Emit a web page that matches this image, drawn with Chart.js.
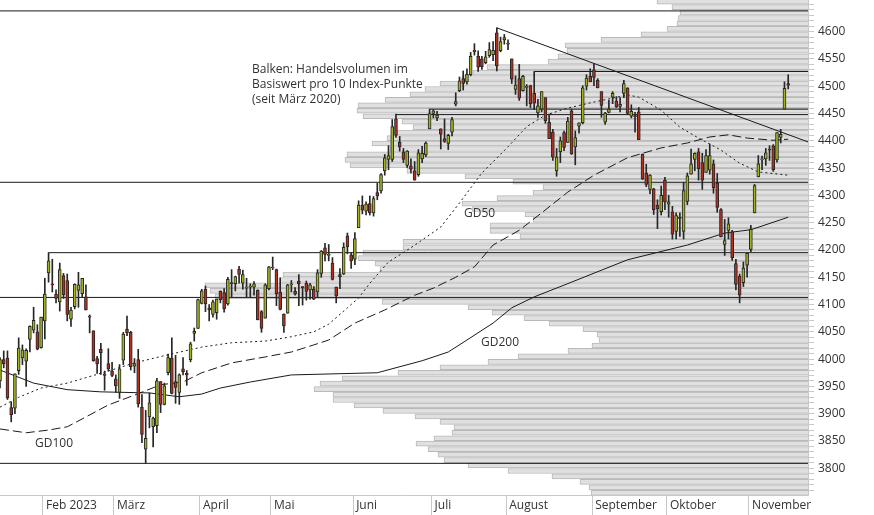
<!DOCTYPE html>
<html lang="de">
<head>
<meta charset="UTF-8">
<title>Index mit Volumenprofil</title>
<script src="https://cdn.jsdelivr.net/npm/chart.js@4.4.0/dist/chart.umd.min.js"></script>
<style>
  html, body { margin: 0; padding: 0; background: #fff; }
  #wrap { width: 874px; height: 515px; }
</style>
</head>
<body>
<div id="wrap"><canvas id="chart"></canvas></div>
<script>
// daily candles, 13.01.2023 - 15.11.2023 (index = trading day)
const opens = [
  3960,3999,4002,3911,3910,3979,4002,3996,4036,4053,4050,4021,
  4070,4158,4137,4119,4105,4153,4144,4073,4096,4126,4120,4114,4077,4052,4001,4018,3973,3992,3978,
  3964,3939,3998,4055,4049,3987,3999,3912,3835,3894,3876,3878,3959,3917,3975,4002,3959,3939,3982,3974,3999,4047,4056,
  4102,4128,4094,4082,4085,4124,4122,4101,4140,4138,4165,4139,4130,4132,4132,4126,4087,4075,4129,
  4167,4164,4123,4082,4084,4136,4124,4143,4132,4139,4127,4128,4123,4157,4204,4190,4176,4132,4155,4156,4226,4191,
  4183,4241,4282,4271,4285,4268,4305,4308,4345,4366,4366,4440,4397,4380,4355,4354,4345,4338,4367,4374,4422,
  4450,4442,4422,4404,4395,4416,4467,4492,4514,4508,4521,4563,4555,4550,4543,4556,4558,4598,4565,4585,
  4579,4550,4494,4514,4492,4498,4501,4487,4451,4458,4479,4434,4416,4345,4380,4415,4397,4455,4389,4427,4433,4500,4518,
  4530,4511,4490,4434,4452,4480,4473,4463,4487,4497,4445,4446,4453,4375,4341,4311,4312,4282,4270,4328,
  4284,4270,4234,4260,4234,4289,4339,4366,4380,4360,4342,4346,4358,4322,4274,4210,4236,4233,4175,4152,4140,4172,
  4201,4268,4334,4365,4367,4384,4391,4365,4406,4458,4505
];
const highs = [
  4003,4015,4015,3922,3973,4039,4026,4019,4061,4095,4063,4077,
  4148,4195,4183,4127,4176,4157,4156,4095,4138,4159,4148,4136,4081,4052,4005,4029,3978,4019,3994,
  3971,3990,4049,4079,4051,4001,4018,3935,3906,3938,3894,3965,3959,3956,4009,4039,4007,3973,4003,3979,4031,4057,4110,
  4128,4134,4100,4108,4110,4125,4129,4150,4164,4152,4170,4163,4148,4138,4142,4127,4089,4138,4170,
  4187,4165,4149,4083,4137,4144,4131,4155,4133,4143,4139,4133,4164,4199,4212,4210,4186,4132,4166,4213,4231,4195,
  4232,4290,4299,4288,4299,4298,4322,4340,4375,4391,4439,4449,4408,4386,4382,4367,4362,4384,4390,4398,4458,
  4457,4454,4422,4440,4412,4443,4488,4517,4528,4532,4562,4578,4565,4555,4564,4580,4582,4607,4590,4595,
  4585,4550,4519,4540,4520,4503,4502,4527,4476,4490,4479,4449,4421,4386,4407,4418,4443,4458,4418,4433,4501,4521,4532,
  4541,4514,4490,4452,4474,4490,4481,4479,4511,4497,4466,4452,4461,4376,4357,4338,4313,4292,4317,4333,
  4300,4280,4268,4268,4324,4341,4385,4378,4386,4377,4384,4394,4365,4340,4276,4256,4259,4236,4183,4156,4178,4194,
  4245,4320,4373,4372,4386,4391,4393,4415,4421,4508,4521
];
const lows = [
  3947,3984,3926,3885,3900,3972,3990,3950,4013,4048,4017,4020,
  4037,4141,4123,4103,4088,4111,4070,4060,4092,4095,4113,4090,4048,3996,3974,3972,3943,3978,3968,
  3939,3928,3990,4043,3980,3975,3912,3847,3809,3874,3839,3865,3902,3916,3971,3936,3919,3917,3971,3952,3995,4033,4056,
  4101,4087,4070,4077,4073,4103,4086,4099,4114,4125,4139,4128,4114,4113,4117,4072,4049,4075,4127,
  4164,4098,4090,4049,4084,4123,4117,4098,4099,4108,4110,4109,4114,4150,4180,4180,4145,4103,4129,4155,4193,4166,
  4173,4241,4266,4264,4264,4262,4292,4304,4337,4347,4362,4406,4381,4360,4351,4341,4328,4335,4360,4371,4422,
  4442,4437,4385,4397,4384,4409,4464,4490,4493,4504,4519,4557,4527,4531,4541,4553,4547,4528,4563,4577,
  4567,4505,4485,4474,4491,4464,4461,4457,4443,4453,4432,4404,4364,4335,4360,4382,4397,4375,4356,4414,4431,4493,4508,
  4501,4497,4443,4430,4451,4468,4461,4453,4479,4448,4442,4416,4402,4329,4316,4303,4265,4239,4264,4274,
  4260,4220,4220,4225,4220,4283,4339,4345,4328,4311,4342,4339,4304,4269,4224,4190,4220,4181,4127,4103,4133,4150,
  4197,4268,4334,4347,4355,4364,4344,4361,4396,4458,4495
];
const closes = [
  3999,3991,3929,3898,3973,4020,4017,4016,4060,4071,4018,4077,
  4119,4180,4136,4111,4164,4118,4082,4090,4137,4136,4148,4090,4079,3997,3991,4012,3970,3982,3970,
  3951,3982,4046,4048,3986,3992,3918,3862,3855,3920,3892,3960,3917,3951,4003,3937,3948,3971,3977,3971,4028,4051,4109,
  4125,4101,4090,4105,4110,4109,4092,4146,4138,4151,4155,4155,4130,4133,4138,4072,4056,4136,4169,
  4168,4120,4091,4061,4136,4138,4119,4138,4131,4124,4136,4110,4158,4198,4192,4192,4146,4116,4151,4205,4206,4180,
  4221,4282,4273,4284,4268,4294,4299,4338,4369,4373,4426,4410,4389,4366,4381,4348,4328,4378,4377,4396,4450,
  4455,4447,4412,4399,4410,4439,4472,4510,4505,4522,4555,4566,4535,4536,4554,4567,4566,4537,4582,4589,
  4577,4513,4502,4478,4518,4499,4468,4469,4464,4490,4437,4404,4370,4370,4400,4388,4436,4376,4406,4433,4497,4515,4508,
  4516,4497,4465,4451,4458,4487,4462,4467,4505,4450,4454,4444,4402,4330,4320,4337,4274,4275,4300,4288,
  4288,4229,4263,4258,4309,4336,4358,4377,4349,4328,4373,4373,4314,4278,4224,4217,4248,4186,4137,4117,4167,4194,
  4238,4318,4358,4365,4378,4383,4347,4415,4412,4496,4502
];

// moving averages (trading day index, value)
const gd50Days  = [0,5,11,18,27,36,45,54,62,71,78,84,88,93,96,99,104,110,118,123,129,136,141,146,152,159,168,171,177,182,187,193,198,203,211];
const gd50Vals  = [3912,3930,3947,3956,3974,3993,4008,4022,4030,4033,4041,4050,4064,4094,4112,4139,4178,4204,4242,4286,4341,4389,4426,4447,4460,4471,4484,4480,4456,4425,4405,4383,4359,4343,4337];
const gd100Days = [0,7,13,18,23,29,36,43,49,54,62,71,78,84,88,95,103,111,116,122,127,132,139,145,152,159,168,177,184,190,195,200,207,211];
const gd100Vals = [3872,3865,3870,3876,3894,3916,3934,3953,3958,3975,3993,4004,4013,4026,4035,4066,4090,4117,4130,4150,4169,4209,4236,4268,4306,4337,4369,4387,4396,4407,4411,4405,4401,4403];
const gd200Days = [0,9,18,27,40,48,54,59,67,78,101,113,120,125,132,137,143,153,168,184,194,201,211];
const gd200Vals = [3980,3956,3944,3940,3938,3931,3936,3947,3958,3971,3975,3997,4013,4035,4066,4094,4114,4141,4182,4209,4231,4237,4260];

// horizontal levels (start day, value) and trend line
const levelDays = [0,143,115,106,0,13,0,0];
const levelVals = [4638,4527,4458,4448,4324,4195,4113,3809];
const trendDays = [133,216.3];
const trendVals = [4607,4398];

// volume profile: bins of 10 index points and relative volume
const volBins = [3755,3765,3775,3785,3795,3805,3815,3825,3835,3845,3855,3865,3875,3885,3895,3905,3915,3925,3935,3945,
  3955,3965,3975,3985,3995,4005,4015,4025,4035,4045,4055,4065,4075,4085,4095,4105,4115,4125,4135,4145,
  4155,4165,4175,4185,4195,4205,4215,4225,4235,4245,4255,4265,4275,4285,4295,4305,4315,4325,4335,4345,
  4355,4365,4375,4385,4395,4405,4415,4425,4435,4445,4455,4465,4475,4485,4495,4505,4515,4525,4535,4545,
  4555,4565,4575,4585,4595,4605,4615,4625,4635,4645,4655];
const volValues = [217,219,228,256,300,340,364,370,380,392,374,356,354,368,393,425,454,475,475,494,
  488,466,410,368,320,290,240,216,209,211,225,259,284,316,340,426,593,598,603,528,
  525,428,433,450,445,405,405,288,318,318,275,283,336,346,311,275,265,295,343,401,
  458,463,461,418,436,421,411,395,406,445,451,450,423,398,383,368,346,335,321,260,
  250,241,243,207,167,141,131,130,128,136,151];

const monthTicks  = [11.5,30.5,53.5,72.5,94.5,115.5,135.5,158.5,178.5,200.5];
const monthLabels = ['Feb 2023','März','April','Mai','Juni','Juli','August','September','Oktober','November'];
const yTicks = [3800,3850,3900,3950,4000,4050,4100,4150,4200,4250,4300,4350,4400,4450,4500,4550,4600];

const UP = '#a3b21d', DOWN = '#b3301f', EDGE = '#262626';
const FONT = '"Open Sans", "Noto Sans", sans-serif';

const bodies = opens.map((o, i) => ({x: i, y: [Math.min(o, closes[i]), Math.max(o, closes[i])]}));
const wicks = highs.map((h, i) => ({x: i, y: [lows[i], h]}));
const bodyColors = opens.map((o, i) => closes[i] >= o ? UP : DOWN);
const pts = (d, v) => d.map((x, i) => ({x: x, y: v[i]}));

const lineDs = (data, dash) => ({
  type: 'line', data: data, borderColor: '#1a1a1a', borderWidth: 1, borderDash: dash || [],
  pointRadius: 0, tension: 0, order: 2, xAxisID: 'x', yAxisID: 'y'
});

const datasets = [
  {
    type: 'bar', indexAxis: 'y', xAxisID: 'xv', yAxisID: 'y', grouped: false, order: 10,
    data: volBins.map((b, i) => ({x: volValues[i], y: b})),
    backgroundColor: '#e0e0e0', borderColor: '#b9b9b9', borderWidth: 1, barThickness: 5
  },
  lineDs(pts(gd50Days, gd50Vals), [2, 3]),
  lineDs(pts(gd100Days, gd100Vals), [9, 4]),
  lineDs(pts(gd200Days, gd200Vals)),
  lineDs(pts(trendDays, trendVals))
];
levelDays.forEach((d, i) => {
  datasets.push(lineDs([{x: d, y: levelVals[i]}, {x: 216.3, y: levelVals[i]}]));
});
datasets.push({
  type: 'bar', xAxisID: 'x', yAxisID: 'y', grouped: false, order: 1,
  data: wicks, backgroundColor: EDGE, borderWidth: 0, barThickness: 1
});
datasets.push({
  type: 'bar', xAxisID: 'x', yAxisID: 'y', grouped: false, order: 0,
  data: bodies, backgroundColor: bodyColors, borderColor: EDGE, borderWidth: 1,
  borderSkipped: false, barThickness: 3, minBarLength: 1
});

// free text on the chart
const textPlugin = {
  id: 'notes',
  afterDatasetsDraw(chart) {
    const c = chart.ctx;
    c.save();
    c.fillStyle = '#333';
    c.font = '12px ' + FONT;
    c.textBaseline = 'middle';
    ['Balken: Handelsvolumen im', 'Basiswert pro 10 Index-Punkte', '(seit März 2020)']
      .forEach((t, i) => c.fillText(t, 252, 70 + i * 15));
    c.fillText('GD50', 464, 214);
    c.fillText('GD200', 481, 343);
    c.fillText('GD100', 35, 444);
    c.restore();
  }
};

new Chart(document.getElementById('chart'), {
  type: 'bar',
  data: {datasets: datasets},
  plugins: [textPlugin],
  options: {
    responsive: true,
    maintainAspectRatio: false,
    animation: false,
    layout: {padding: 0},
    plugins: {legend: {display: false}, tooltip: {enabled: false}},
    scales: {
      x: {
        type: 'linear', min: 0, max: 216.3, offset: false,
        afterBuildTicks: s => { s.ticks = monthTicks.map(v => ({value: v})); },
        afterFit: s => { s.height = 20; s.paddingLeft = 0; s.paddingRight = 0; },
        grid: {drawOnChartArea: false, tickLength: 20, color: '#c8c8c8', offset: false},
        border: {color: '#c8c8c8'},
        ticks: {
          autoSkip: false, maxRotation: 0, align: 'start', padding: -17,
          color: '#333', font: {family: FONT, size: 12},
          callback: (v, i) => ' ' + monthLabels[i]
        }
      },
      xv: {type: 'linear', min: 0, max: 808, reverse: true, display: false, offset: false},
      y: {
        type: 'linear', position: 'right', min: 3751, max: 4658, offset: false,
        afterBuildTicks: s => {
          const t = [];
          for (let v = 3760; v <= 4650; v += 10) t.push({value: v});
          s.ticks = t;
        },
        afterFit: s => { s.width = 66; s.paddingTop = 0; s.paddingBottom = 0; },
        grid: {drawOnChartArea: false, tickLength: 6, color: '#c8c8c8', offset: false},
        border: {color: '#c8c8c8'},
        ticks: {
          autoSkip: false, padding: 4, color: '#333', font: {family: FONT, size: 12},
          callback: v => yTicks.includes(v) ? String(v) : ''
        }
      }
    }
  }
});
</script>
</body>
</html>
